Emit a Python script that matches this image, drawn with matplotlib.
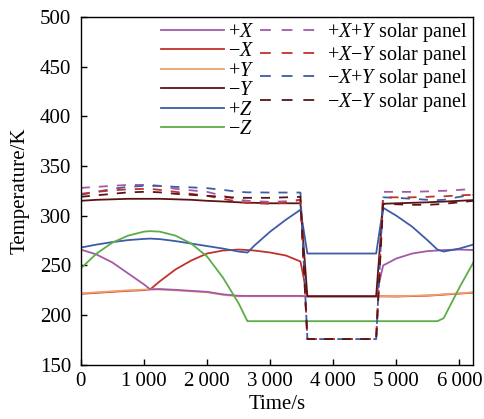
import matplotlib
matplotlib.use("Agg")
import matplotlib.pyplot as plt
from matplotlib.lines import Line2D

plt.rcParams['font.family'] = ['Liberation Serif', 'DejaVu Serif']
plt.rcParams['mathtext.fontset'] = 'custom'
plt.rcParams['mathtext.rm'] = 'Liberation Serif'
plt.rcParams['mathtext.it'] = 'Liberation Serif:italic'

time_s = [0, 250, 500, 750, 1000, 1100, 1250, 1500, 1750, 2000, 2250, 2500, 2640, 2750,
          3000, 3250, 3480, 3590, 4000, 4680, 4790, 5000, 5250, 5500, 5650, 5750, 6000, 6220]

pos_x = [266, 261, 253, 242, 231, 226, 226.3, 225.5, 224.5, 223.5, 221, 219.5, 219.4, 219.4,
         219.4, 219.4, 219.4, 219, 219, 219, 250, 257, 262, 264.5, 265, 265.5, 266, 265.5]
neg_x = [221.5, 222.5, 223.5, 224.5, 225.2, 226, 234, 246, 255, 262, 265, 266, 265.5, 265,
         263, 260, 254, 219, 219, 219, 219, 218.8, 219.2, 219.7, 220.2, 220.7, 221.7, 222.7]
pos_y = [222, 223, 224, 225, 225.7, 226, 225.8, 225, 224, 223, 220.5, 219, 219, 219,
         219, 219, 219, 219, 219, 219, 219, 219, 219.5, 220, 220.5, 221, 222, 223]
neg_y = [315, 316, 316.5, 317, 317, 317, 317, 316.5, 316, 315, 314.3, 313.5, 313, 313,
         312.5, 312.5, 312.5, 219, 219, 219, 312, 312.5, 313, 313.5, 314, 314.2, 315, 315.7]
pos_z = [268, 271, 273.5, 275.5, 276.7, 277, 276.5, 274.5, 272, 269.5, 267, 264, 263, 270,
         284, 296, 306, 262, 262, 262, 308, 300, 289, 275, 266, 264, 267, 271]
neg_z = [247, 262, 273, 280, 284, 284.5, 284, 280, 272, 259, 238, 212, 194, 194,
         194, 194, 194, 194, 194, 194, 194, 194, 194, 194, 194, 197, 228, 253]

panel_pxpy = [328, 329, 330, 331, 331, 331, 330, 327, 325.5, 324, 320, 316, 315, 314.5,
              314, 314.5, 316, 176, 176, 176, 324, 324, 324, 324.5, 325, 325, 326, 327]
panel_pxny = [322, 324, 325.5, 326.5, 327, 327, 326, 324, 322, 320, 317, 314, 313, 312.5,
              312, 313, 316, 176, 176, 176, 318.5, 318.5, 318.5, 319, 319.5, 319.5, 320.5, 321]
panel_nxpy = [321, 324, 327, 329, 330, 330, 330, 329, 328.5, 327.7, 326, 324, 323.5, 323.5,
              323.3, 323.3, 323.3, 176, 176, 176, 318.5, 318, 317, 316, 315.7, 316, 319, 321]
panel_nxny = [319, 320.5, 322, 323.5, 324, 324, 323.5, 322, 321, 320, 319, 318, 318, 318,
              318, 318.5, 319, 176, 176, 176, 312, 311.5, 311, 311, 311.5, 312, 313.5, 315]

purple = '#a35aa6'
red = '#c0332b'
orange = '#f0a06a'
brown = '#5a1414'
blue = '#3d5ca8'
green = '#5cad48'

xticks = [0, 1000, 2000, 3000, 4000, 5000, 6000]
xtick_labels = ['0', '1\u2009000', '2\u2009000', '3\u2009000', '4\u2009000', '5\u2009000', '6\u2009000']
yticks = [150, 200, 250, 300, 350, 400, 450, 500]

fig = plt.figure(figsize=(4.84, 4.19), dpi=100)
ax = fig.add_axes([0.167, 0.129, 0.811, 0.831])

lw = 1.3
dash = (0, (5, 5))
ax.plot(time_s, neg_x, color=red, lw=lw)
ax.plot(time_s, pos_y, color=orange, lw=lw)
ax.plot(time_s, pos_x, color=purple, lw=lw)
ax.plot(time_s, pos_z, color=blue, lw=lw)
ax.plot(time_s, neg_z, color=green, lw=lw)
ax.plot(time_s, neg_y, color=brown, lw=lw)
ax.plot(time_s, panel_pxpy, color=purple, lw=lw, ls=dash)
ax.plot(time_s, panel_nxpy, color=blue, lw=lw, ls=dash)
ax.plot(time_s, panel_pxny, color=red, lw=lw, ls=dash)
ax.plot(time_s, panel_nxny, color=brown, lw=lw, ls=dash)

leg_dash = (0, (6, 6))
handles = [
    Line2D([], [], color=purple, lw=lw), Line2D([], [], color=red, lw=lw),
    Line2D([], [], color=orange, lw=lw), Line2D([], [], color=brown, lw=lw),
    Line2D([], [], color=blue, lw=lw), Line2D([], [], color=green, lw=lw),
    Line2D([], [], color=purple, lw=lw, ls=leg_dash), Line2D([], [], color=red, lw=lw, ls=leg_dash),
    Line2D([], [], color=blue, lw=lw, ls=leg_dash), Line2D([], [], color=brown, lw=lw, ls=leg_dash),
    Line2D([], [], ls='none'), Line2D([], [], ls='none'),
]
labels = ['+$X$', '\u2212$X$', '+$Y$', '\u2212$Y$', '+$Z$', '\u2212$Z$',
          '+$X$+$Y$ solar panel', '+$X$\u2212$Y$ solar panel',
          '\u2212$X$+$Y$ solar panel', '\u2212$X$\u2212$Y$ solar panel', '', '']
ax.legend(handles, labels, ncol=2, loc='upper right', frameon=False, fontsize=14.5,
          handlelength=3.1, handletextpad=0.2, columnspacing=0.3, labelspacing=0.02,
          borderaxespad=0.0, bbox_to_anchor=(1.005, 1.012))

ax.set_xlim(0, 6220)
ax.set_ylim(150, 500)
ax.set_xticks(xticks)
ax.set_xticklabels(xtick_labels)
ax.set_yticks(yticks)
ax.tick_params(direction='in', length=4, labelsize=15, width=1)
ax.tick_params(axis='y', pad=7)
ax.tick_params(axis='x', pad=5)
ax.set_xlabel('Time/s', fontsize=15, labelpad=3)
ax.set_ylabel('Temperature/K', fontsize=15, labelpad=7)
for s in ax.spines.values():
    s.set_linewidth(1)

fig.savefig('out.png', dpi=100)
